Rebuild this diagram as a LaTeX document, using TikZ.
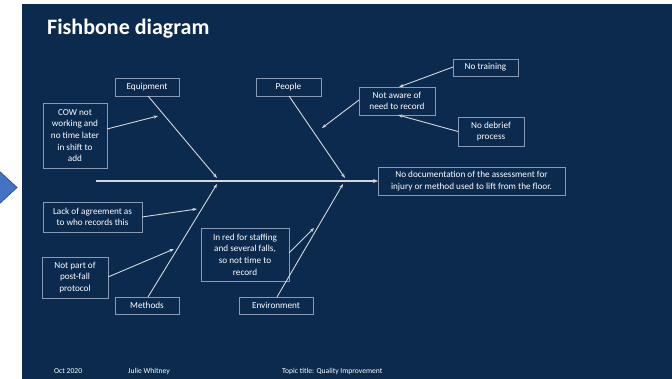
\documentclass[tikz,border=0pt]{standalone}
\usepackage{fontspec}
\setmainfont{Carlito}
\usetikzlibrary{arrows.meta}
\definecolor{slidebg}{HTML}{0B2A4E}
\definecolor{boxc}{HTML}{8A9AB4}
\definecolor{linec}{HTML}{D4D8DE}
\definecolor{tabfill}{HTML}{4472C4}
\definecolor{tabedge}{HTML}{2F528F}
\tikzset{
  box/.style={draw=boxc, line width=0.6pt, text=white, align=center,
    font=\fontsize{9.2}{11.6}\selectfont, inner sep=0pt, outer sep=0pt},
  bone/.style={draw=linec, line width=0.9pt, -{Stealth[length=4.5pt,width=3.2pt]}},
  spine/.style={draw=linec, line width=1.6pt, -{Stealth[length=5pt,width=4pt]}},
  foot/.style={text=white, font=\fontsize{7.6}{8.5}\selectfont, inner sep=0pt}
}
\begin{document}
\begin{tikzpicture}[x=1pt,y=-1pt]
\useasboundingbox (0,0) rectangle (672,379);
\fill[white] (0,0) rectangle (672,379);
% slide area
\fill[slidebg] (22,4) rectangle (672,379);
% tab of the neighbouring slide shape
\filldraw[fill=tabfill, draw=tabedge, line width=0.8pt] (-2,170) -- (17,187.5) -- (-2,205) -- cycle;

% title
\node[anchor=base west, text=white, font=\fontsize{22}{25}\bfseries\selectfont, inner sep=0pt]
  (title) at (47,35) {Fishbone diagram};

% effect
\node[box, minimum width=187pt, minimum height=28pt] (effect) at (471.5,181)
  {No documentation of the assessment for\\injury or method used to lift from the floor.};

% category boxes
\node[box, minimum width=64pt, minimum height=18pt] (equip) at (147,87) {Equipment};
\node[box, minimum width=65pt, minimum height=18pt] (people) at (288.5,87) {People};
\node[box, minimum width=64pt, minimum height=17pt] (methods) at (147,305.5) {Methods};
\node[box, minimum width=74pt, minimum height=17pt] (env) at (276,305.5) {Environment};

% cause boxes
\node[box, minimum width=64pt, minimum height=65pt] (cow) at (75,135.5)
  {COW not\\working and\\no time later\\in shift to\\add};
\node[box, minimum width=76pt, minimum height=28pt] (aware) at (397,101)
  {Not aware of\\need to record};
\node[box, minimum width=65pt, minimum height=17pt] (training) at (485.5,67.5) {No training};
\node[box, minimum width=66pt, minimum height=29pt] (debrief) at (491,131.5)
  {No debrief\\process};
\node[box, minimum width=99pt, minimum height=30pt] (lack) at (92.5,217)
  {Lack of agreement as\\to who records this};
\node[box, minimum width=66pt, minimum height=41pt] (notpart) at (75,277.5)
  {Not part of\\post-fall\\protocol};
\node[box, minimum width=88pt, minimum height=53pt] (inred) at (245,254.5)
  {In red for staffing\\and several falls,\\so not time to\\record};

% footer
\node[foot, anchor=base west] (date) at (54,373) {Oct 2020};
\node[foot, anchor=base west] (author) at (128,373) {Julie Whitney};
\node[foot, anchor=base west] (topic) at (282,373) {Topic title: Quality Improvement};

% arrow end points
\coordinate (tail) at (96,181);
\coordinate (eqtip) at (217,178);
\coordinate (petip) at (345,178);
\coordinate (metip) at (217,184);
\coordinate (entip) at (343,184);
\coordinate (cowtip) at (158,116);
\coordinate (awaretip) at (322,128);
\coordinate (lacktip) at (197,209);
\coordinate (parttip) at (174,249);
\coordinate (redtip) at (314,228);

% spine and bones
\draw[spine] (tail) -- (effect.west);
\draw[bone] ([xshift=1pt]equip.south) -- (eqtip);
\draw[bone] ([xshift=0.5pt]people.south) -- (petip);
\draw[bone] ([xshift=1pt]methods.north) -- (metip);
\draw[bone] ([xshift=1pt]env.north) -- (entip);

% sub-causes
\draw[bone] ([yshift=6.5pt]cow.east) -- (cowtip);
\draw[bone] ([yshift=1pt]aware.west) -- (awaretip);
\draw[bone] ([yshift=0.5pt]training.west) -- ([xshift=2pt]aware.north);
\draw[bone] (debrief.west) -- ([xshift=1pt]aware.south);
\draw[bone] (lack.east) -- (lacktip);
\draw[bone] ([yshift=0.5pt]notpart.east) -- (parttip);
\draw[bone] ([yshift=1.5pt]inred.east) -- (redtip);
\end{tikzpicture}
\end{document}
